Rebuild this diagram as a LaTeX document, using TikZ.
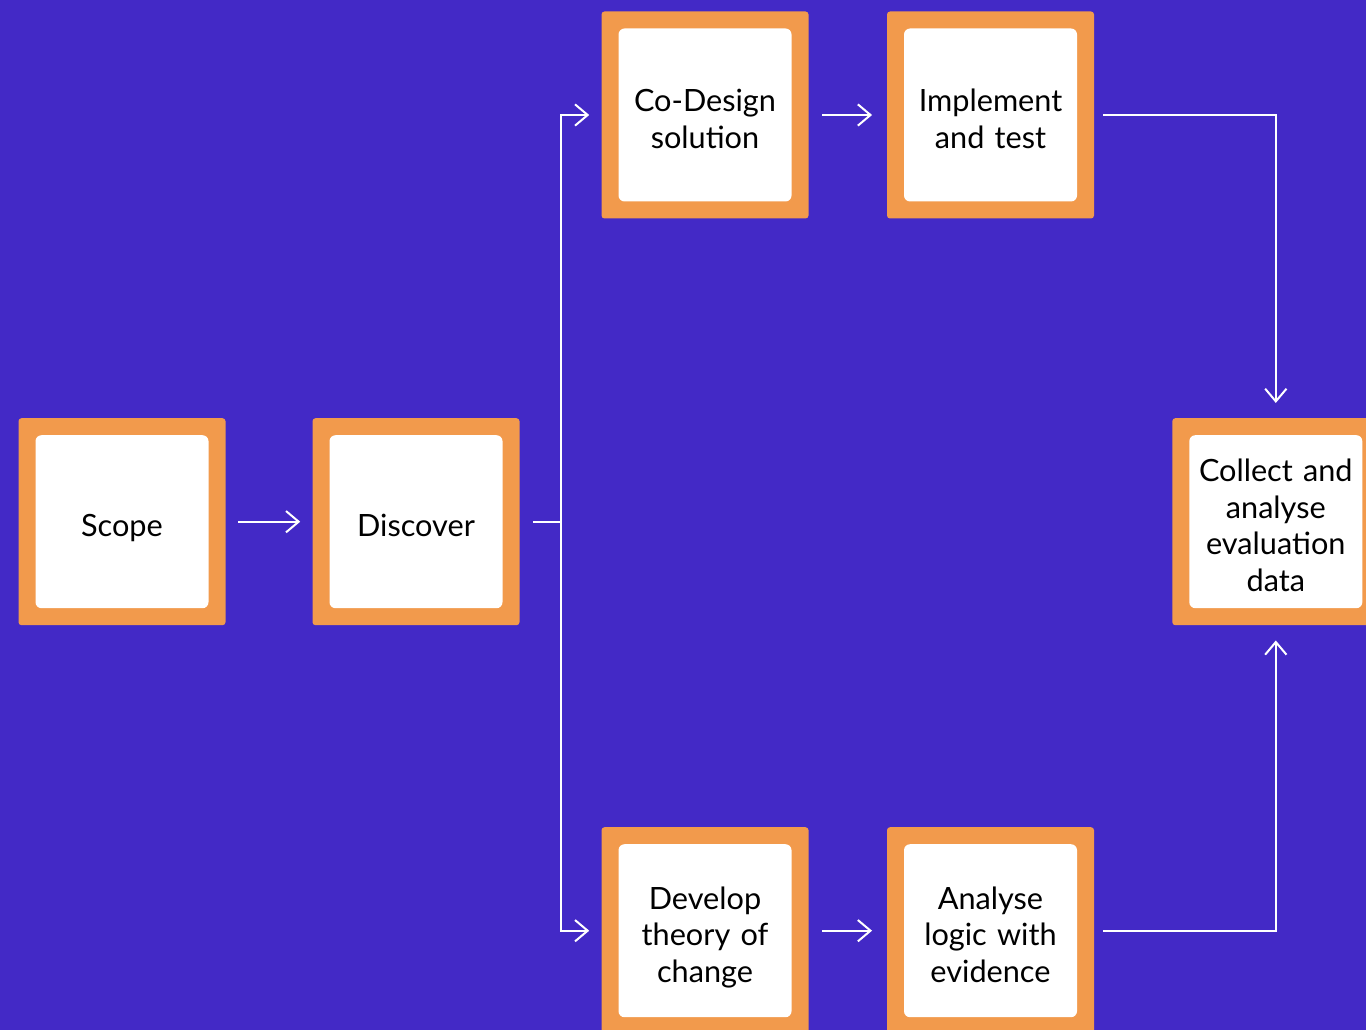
\documentclass[tikz,border=0pt]{standalone}
\usepackage{fontspec}
\setmainfont{Lato}
\usetikzlibrary{arrows.meta, positioning}
\definecolor{bgpurple}{RGB}{67, 41, 198}
\definecolor{frameorange}{RGB}{242, 154, 76}

\begin{document}
\begin{tikzpicture}[x=0.75pt, y=-0.75pt,
    frame/.style={rectangle, rounded corners=2.25pt, fill=frameorange,
                  minimum width=155.25pt, minimum height=155.25pt, inner sep=0pt},
    card/.style={rectangle, rounded corners=4.5pt, fill=white, text=black,
                 minimum width=129.75pt, minimum height=129.75pt, inner sep=0pt,
                 text width=129.75pt, align=center,
                 font=\fontsize{23pt}{27.4pt}\selectfont,
                 execute at begin node={\rule{0pt}{30pt}},
                 execute at end node={\rule[-7.5pt]{0pt}{7.5pt}}},
    link/.style={draw=white, line width=1.5pt},
    flow/.style={link, -{Straight Barb[length=9.5pt, width=16pt]}}]

    % Background
    \useasboundingbox (0,0) rectangle (1366,1030);
    \fill[bgpurple] (0,0) rectangle (1366,1030);

    % Scope
    \node[frame] (scope-box) at (122, 521.7) {};
    \node[card] (scope) at (scope-box) {Scope};

    % Discover
    \node[frame] (discover-box) at (416, 521.7) {};
    \node[card] (discover) at (discover-box) {Discover};

    % Co-Design
    \node[frame] (codesign-box) at (705, 115) {};
    \node[card] (codesign) at (codesign-box) {Co-Design\\solution};

    % Implement
    \node[frame] (implement-box) at (990.5, 115) {};
    \node[card] (implement) at (implement-box) {Implement\\and test};

    % Develop
    \node[frame] (develop-box) at (705, 930.7) {};
    \node[card] (develop) at (develop-box) {Develop\\theory of\\change};

    % Analyse
    \node[frame] (analyse-box) at (990.5, 930.7) {};
    \node[card] (analyse) at (analyse-box) {Analyse\\logic with\\evidence};

    % Collect
    \node[frame] (collect-box) at (1275.8, 521.7) {};
    \node[card] (collect) at (collect-box) {Collect and\\analyse\\evaluation\\data};

    % Arrows
    \coordinate (split) at (561, 521.7);
    \draw[flow, shorten <=9pt, shorten >=9pt] (scope-box) -- (discover-box);
    \draw[link, shorten <=9.75pt] (discover-box) -- (split);
    \draw[flow, shorten >=9pt] (split) |- (codesign-box);
    \draw[flow, shorten >=9pt] (split) |- (develop-box);
    \draw[flow, shorten <=10pt, shorten >=11pt] (codesign-box) -- (implement-box);
    \draw[flow, shorten <=10pt, shorten >=11pt] (develop-box) -- (analyse-box);
    \draw[flow, shorten <=6.75pt, shorten >=11.25pt] (implement-box) -| (collect-box);
    \draw[flow, shorten <=6.75pt, shorten >=11.25pt] (analyse-box) -| (collect-box);
\end{tikzpicture}
\end{document}
